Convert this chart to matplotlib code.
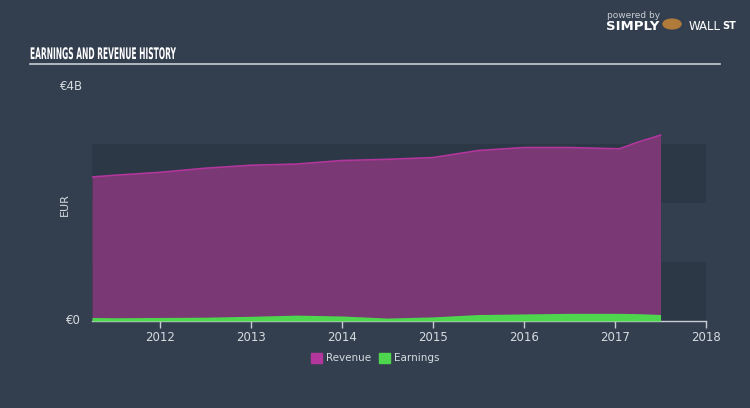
import matplotlib.pyplot as plt
import matplotlib.patheffects as patheffects
import matplotlib.transforms as mtransforms
import numpy as np

# dane (rok dziesiętny, miliardy EUR)
years = [2011.25, 2011.5, 2012.0, 2012.5, 2013.0, 2013.5, 2014.0, 2014.5,
         2015.0, 2015.25, 2015.5, 2016.0, 2016.5, 2017.0, 2017.05, 2017.25, 2017.5]
revenue = [2.44, 2.47, 2.52, 2.59, 2.64, 2.66, 2.72, 2.74,
           2.77, 2.83, 2.89, 2.94, 2.94, 2.92, 2.92, 3.03, 3.15]
earnings = [0.06, 0.055, 0.06, 0.065, 0.08, 0.10, 0.085, 0.05,
            0.07, 0.09, 0.11, 0.12, 0.13, 0.13, 0.13, 0.125, 0.11]
tick_years = [2012, 2013, 2014, 2015, 2016, 2017, 2018]

BG = '#333f4f'
BAND = '#2d3846'
TXT = '#d6dbe0'
W, H = 750, 408


class SqueezeX(patheffects.AbstractPathEffect):
    """Ściska tekst w poziomie (imitacja wąskiego kroju)."""
    def __init__(self, sx):
        super().__init__()
        self.sx = sx

    def draw_path(self, renderer, gc, tpath, affine, rgbFace=None):
        renderer.draw_path(gc, tpath, mtransforms.Affine2D().scale(self.sx, 1) + affine,
                           rgbFace)


fig = plt.figure(figsize=(7.5, 4.08), dpi=100, facecolor=BG)
ax = fig.add_axes([92 / W, (H - 321) / H, (706 - 92) / W, (321 - 85) / H])
ax.set_facecolor(BG)

# pasy tła
ax.axhspan(0, 1, color=BAND, lw=0, zorder=0)
ax.axhspan(2, 3, color=BAND, lw=0, zorder=0)

ax.fill_between(years, 0, revenue, color='#7a3874', lw=0, zorder=2)
ax.plot(years, revenue, color='#b3369d', lw=1.2, zorder=3)
ax.fill_between(years, 0, earnings, color='#4fd64f', lw=0, zorder=4)

ax.set_xlim(2011.25, 2018.0)
ax.set_ylim(0, 4)

for s in ['top', 'right', 'left']:
    ax.spines[s].set_visible(False)
ax.spines['bottom'].set_color('#c8cdd3')
ax.spines['bottom'].set_linewidth(1)

ax.set_xticks(tick_years)
ax.set_xticklabels([str(y) for y in tick_years])
ax.tick_params(axis='x', colors='#c8cdd3', length=5, width=1, labelsize=8.5,
               labelcolor=TXT, pad=2)
ax.set_yticks([])

# etykiety osi Y
fig.text(72 / W, 1 - 86 / H, '€4B', color=TXT, fontsize=8.5, ha='center', va='center')
fig.text(73 / W, 1 - 320 / H, '€0', color=TXT, fontsize=8.5, ha='center', va='center')
fig.text(65 / W, 1 - 205 / H, 'EUR', color=TXT, fontsize=8, ha='center', va='center',
         rotation=90)

# tytuł (ok. 30..178 px, wys. liter ~12 px)
title = fig.text(30 / W, 1 - 59 / H, 'EARNINGS AND REVENUE HISTORY', color='white',
                 fontsize=11.5, fontweight='bold', ha='left', va='baseline')
title.set_path_effects([SqueezeX(0.47)])
fig.add_artist(plt.Line2D([30 / W, 720 / W], [1 - 64 / H, 1 - 64 / H],
                          color='#c8cdd3', lw=1.2))

# logo
fig.text(607 / W, 1 - 15 / H, 'powered by', color='#c8cdd3', fontsize=6.5,
         ha='left', va='center')
fig.text(606 / W, 1 - 27 / H, 'SIMPLY', color='white', fontsize=9.5,
         fontweight='bold', ha='left', va='center')
fig.text(689 / W, 1 - 27 / H, 'WALL', color='white', fontsize=8.5,
         ha='left', va='center')
fig.text(722 / W, 1 - 26 / H, 'ST', color='white', fontsize=7,
         fontweight='bold', ha='left', va='center')
fig.add_artist(plt.Circle((672 / W, 1 - 24 / H), 0.012, transform=fig.transFigure,
                          color='#b07a3a'))

# legenda
fig.patches.append(plt.Rectangle((311 / W, 1 - 363 / H), 11 / W, 10 / H,
                                 transform=fig.transFigure, color='#b3369d'))
fig.text(326 / W, 1 - 358 / H, 'Revenue', color=TXT, fontsize=7.5, ha='left', va='center')
fig.patches.append(plt.Rectangle((379 / W, 1 - 363 / H), 11 / W, 10 / H,
                                 transform=fig.transFigure, color='#4fd64f'))
fig.text(394 / W, 1 - 358 / H, 'Earnings', color=TXT, fontsize=7.5, ha='left', va='center')

plt.savefig('out.png', dpi=100, facecolor=BG)
